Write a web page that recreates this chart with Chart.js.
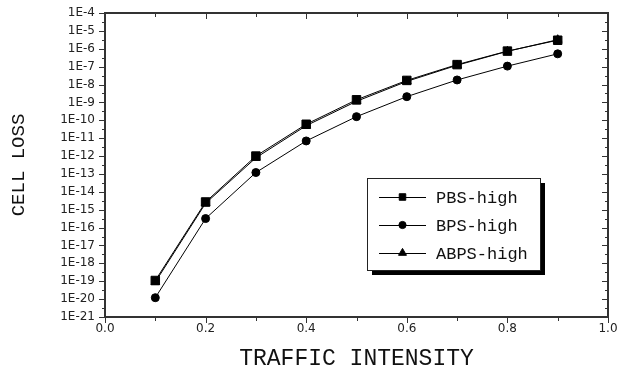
<!DOCTYPE html>
<html lang="en">
<head>
<meta charset="UTF-8">
<title>Cell loss vs traffic intensity</title>
<script src="https://cdn.jsdelivr.net/npm/chart.js"></script>
<style>
  body { margin: 0; background: #fff; }
</style>
</head>
<body>
<canvas id="lossChart" width="619" height="376"></canvas>
<script>
// traffic intensity on the x axis
const intensity = [0.1, 0.2, 0.3, 0.4, 0.5, 0.6, 0.7, 0.8, 0.9];

// cell loss per scheme
const pbsHigh  = [1.1e-19, 2.7e-15, 1.0e-12, 6.0e-11, 1.4e-9, 1.7e-8, 1.3e-7, 7.4e-7, 3.0e-6];
const bpsHigh  = [1.2e-20, 3.2e-16, 1.2e-13, 7.0e-12, 1.6e-10, 2.1e-9, 1.8e-8, 1.07e-7, 5.2e-7];
const abpsHigh = [9.0e-20, 2.3e-15, 8.0e-13, 5.0e-11, 1.15e-9, 1.5e-8, 1.2e-7, 7.2e-7, 3.2e-6];

const seriesNames = ['PBS-high', 'BPS-high', 'ABPS-high'];
const seriesMarkers = ['rect', 'circle', 'triangle'];

// axis ticks
const xTicks = [0, 0.1, 0.2, 0.3, 0.4, 0.5, 0.6, 0.7, 0.8, 0.9, 1.0];
const xLabels = ['0.0', '', '0.2', '', '0.4', '', '0.6', '', '0.8', '', '1.0'];
const yExponents = [-21, -20, -19, -18, -17, -16, -15, -14, -13, -12, -11, -10, -9, -8, -7, -6, -5, -4];

const AXIS = '#333';

function line(ctx, x1, y1, x2, y2) {
  ctx.beginPath();
  ctx.moveTo(x1, y1);
  ctx.lineTo(x2, y2);
  ctx.stroke();
}

// frame with tick marks: outward on bottom/left, inward on top/right
const frameTicks = {
  id: 'frameTicks',
  afterDraw(chart) {
    const { ctx, chartArea: a, scales: { x, y } } = chart;
    ctx.save();
    ctx.strokeStyle = AXIS;
    ctx.lineWidth = 1;
    x.ticks.forEach((t, i) => {
      const px = Math.round(x.getPixelForValue(t.value)) + 0.5;
      const len = i % 2 === 0 ? 6 : 4;
      line(ctx, px, a.bottom, px, a.bottom + len);
      line(ctx, px, a.top, px, a.top + len);
    });
    y.ticks.forEach(t => {
      const py = Math.round(y.getPixelForValue(t.value)) + 0.5;
      const len = t.major ? 6 : 3;
      line(ctx, a.left - len, py, a.left, py);
      line(ctx, a.right - len, py, a.right, py);
    });
    ctx.lineWidth = 2;
    ctx.strokeRect(a.left, a.top, a.right - a.left, a.bottom - a.top);
    ctx.restore();
  }
};

// boxed legend with drop shadow inside the plot
const boxLegend = {
  id: 'boxLegend',
  afterDraw(chart) {
    const ctx = chart.ctx;
    const bx = 367, by = 178, bw = 173, bh = 92;
    ctx.save();
    ctx.fillStyle = '#000';
    ctx.fillRect(bx + 5, by + 5, bw, bh);
    ctx.fillStyle = '#fff';
    ctx.fillRect(bx, by, bw, bh);
    ctx.strokeStyle = '#222';
    ctx.lineWidth = 1;
    ctx.strokeRect(bx + 0.5, by + 0.5, bw, bh);
    const sizes = [4.6, 3.6, 4.6];
    chart.data.datasets.forEach((ds, i) => {
      const ry = by + 19 + i * 28;
      ctx.strokeStyle = '#000';
      ctx.lineWidth = 1;
      line(ctx, bx + 12, ry + 0.5, bx + 59, ry + 0.5);
      ctx.fillStyle = '#000';
      Chart.helpers.drawPoint(ctx, {
        pointStyle: seriesMarkers[i], radius: sizes[i], rotation: 0, borderWidth: 1
      }, bx + 35.5, ry);
      ctx.font = '17px "Liberation Mono", monospace';
      ctx.textBaseline = 'middle';
      ctx.fillStyle = '#111';
      ctx.fillText(ds.label, bx + 69, ry + 1);
    });
    ctx.restore();
  }
};

function makeSet(i, values, radius) {
  return {
    label: seriesNames[i],
    data: intensity.map((v, k) => ({ x: v, y: values[k] })),
    borderColor: '#000',
    backgroundColor: '#000',
    borderWidth: 1,
    pointStyle: seriesMarkers[i],
    pointRadius: radius,
    pointBorderWidth: 1,
    pointBackgroundColor: '#000',
    pointBorderColor: '#000',
    tension: 0
  };
}

new Chart(document.getElementById('lossChart'), {
  type: 'line',
  data: {
    datasets: [
      makeSet(0, pbsHigh, 6),
      makeSet(1, bpsHigh, 4),
      makeSet(2, abpsHigh, 5)
    ]
  },
  options: {
    responsive: false,
    animation: false,
    layout: { padding: { top: 13, right: 11, bottom: 0, left: 0 } },
    plugins: {
      legend: { display: false },
      tooltip: { enabled: false }
    },
    scales: {
      x: {
        type: 'linear',
        min: 0,
        max: 1,
        afterBuildTicks(scale) {
          scale.ticks = xTicks.map(v => ({ value: v }));
        },
        afterFit(scale) {
          scale.height = 59;
          scale.paddingLeft = 0;
          scale.paddingRight = 0;
        },
        grid: { display: false, drawTicks: false },
        border: { display: false },
        ticks: {
          autoSkip: false,
          maxRotation: 0,
          padding: 5,
          color: '#222',
          font: { family: '"DejaVu Sans", sans-serif', size: 12 },
          callback: (v, i) => xLabels[i]
        },
        title: {
          display: true,
          text: 'TRAFFIC INTENSITY',
          color: '#111',
          font: { family: '"Liberation Mono", monospace', size: 23 },
          padding: { top: 0, bottom: 3 }
        }
      },
      y: {
        type: 'logarithmic',
        min: 1e-21,
        max: 1e-4,
        afterBuildTicks(scale) {
          const ticks = [];
          yExponents.forEach(e => {
            ticks.push({ value: Math.pow(10, e), major: true, label: '1E' + e });
            if (e < -4) ticks.push({ value: Math.pow(10, e + 0.5), major: false, label: '' });
          });
          scale.ticks = ticks;
        },
        afterFit(scale) {
          scale.width = 105;
          scale.paddingTop = 0;
          scale.paddingBottom = 0;
        },
        grid: { display: false, drawTicks: false },
        border: { display: false },
        ticks: {
          autoSkip: false,
          padding: 10,
          color: '#222',
          font: { family: '"DejaVu Sans", sans-serif', size: 12 },
          callback: function (v, i, ticks) { return ticks[i].label; }
        },
        title: {
          display: true,
          text: 'CELL LOSS',
          color: '#111',
          font: { family: '"Liberation Mono", monospace', size: 19 },
          padding: { top: 8, bottom: 0 }
        }
      }
    }
  },
  plugins: [frameTicks, boxLegend]
});
</script>
</body>
</html>
